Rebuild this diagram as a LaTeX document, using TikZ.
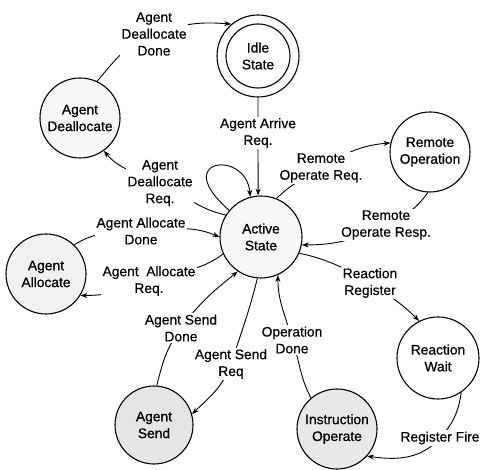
\documentclass[tikz,border=0pt]{standalone}
\usepackage{fontspec}
\setmainfont{Liberation Sans}
\newfontfamily\statefont{Liberation Sans}[FakeBold=0.9]
\newfontfamily\labelfont{Liberation Sans}[FakeBold=0.5]
\usetikzlibrary{arrows.meta,calc}

\begin{document}
\begin{tikzpicture}[x=1pt,y=1pt,
  every node/.style={font=\labelfont\fontsize{13.8}{16.8}\selectfont},
  state/.style={circle,draw,line width=1.1pt,minimum size=80pt,inner sep=0pt,align=center,
    font=\statefont\fontsize{13.8}{16.8}\selectfont},
  lbl/.style={fill=white,inner sep=1.5pt,align=center},
  edge/.style={line width=0.9pt,-{Stealth[length=7pt,width=5pt]}},
]
\useasboundingbox (0,0) rectangle (480,470);

% states
\node[state,minimum size=82pt] (idle) at (258,414) {Idle\\State};
\node[circle,draw,line width=1.1pt,minimum size=64pt] (idlein) at (idle) {};
\node[state,fill=gray!6] (dealloc) at (80,352) {Agent\\Deallocate};
\node[state] (remote) at (430,318) {Remote\\Operation};
\node[state,minimum size=82pt,fill=gray!6] (active) at (261,233) {Active\\State};
\node[state,fill=gray!11] (alloc) at (46,196) {Agent\\Allocate};
\node[state,minimum size=78pt,fill=gray!20] (send) at (154,45) {Agent\\Send};
\node[state,fill=gray!18] (instr) at (337,41) {Instruction\\Operate};
\node[state,minimum size=82pt] (react) at (438,112) {Reaction\\Wait};

% label positions
\coordinate (lA) at (154,436);
\coordinate (lB) at (258,337);
\coordinate (lC) at (160,287);
\coordinate (lD) at (321,302);
\coordinate (lE) at (386,245);
\coordinate (lF) at (370,187);
\coordinate (lG) at (440,32);
\coordinate (lH) at (292,130);
\coordinate (lI) at (231,106);
\coordinate (lJ) at (181,142);
\coordinate (lK) at (149,189);
\coordinate (lL) at (141,239);

% transitions
\draw[edge] (dealloc.65) to[out=50,in=200] (lA) to[out=20,in=175] (idle.130);
\draw[edge] (idle.270) -- (lB) -- (active.94);
\draw[edge] (active.140) .. controls ($(active.140)+(-60,52)$) and ($(active.105)+(-4,48)$) .. (active.105);
\draw[edge] (active.148) to[out=168,in=-25] (lC) to[out=155,in=-50] (dealloc.306);
\draw[edge] (active.68) to[out=45,in=212] (lD) to[out=32,in=185] (remote.167);
\draw[edge] (remote.267) to[out=235,in=26] (lE) to[out=206,in=0] (active.349);
\draw[edge] (active.337) to[out=-12,in=150] (lF) to[out=-33,in=135] (react.117);
\draw[edge] (react.304) to[out=262,in=48] (lG) to[out=228,in=-8] (instr.318);
\draw[edge] (instr.130) to[out=118,in=290] (lH) to[out=105,in=270] (active.294);
\draw[edge] (active.265) to[out=256,in=72] (lI) to[out=250,in=44] (send.16);
\draw[edge] (send.86) to[out=76,in=234] (lJ) to[out=54,in=219] (active.236);
\draw[edge] (active.204) to[out=218,in=22] (lK) to[out=202,in=0] (alloc.328);
\draw[edge] (alloc.46) to[out=32,in=183] (lL) to[out=3,in=157] (active.180);

% transition labels
\node[lbl] at (lA) {Agent\\Deallocate\\Done};
\node[lbl] at (lB) {Agent Arrive\\Req.};
\node[lbl] at (lC) {Agent\\Deallocate\\Req.};
\node[lbl] at (lD) {Remote\\Operate Req.};
\node[lbl] at (lE) {Remote\\Operate Resp.};
\node[lbl] at (lF) {Reaction\\Register};
\node[lbl] at (lG) {Register Fire};
\node[lbl] at (lH) {Operation\\Done};
\node[lbl] at (lI) {Agent Send\\Req};
\node[lbl] at (lJ) {Agent Send\\Done};
\node[lbl] at (lK) {Agent\ \ Allocate\\Req.};
\node[lbl] at (lL) {Agent Allocate\\Done};
\end{tikzpicture}
\end{document}
